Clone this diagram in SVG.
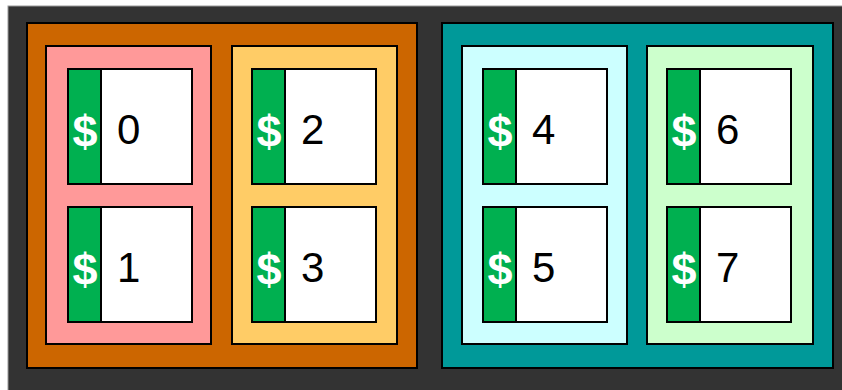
<svg xmlns="http://www.w3.org/2000/svg" width="842" height="390" viewBox="0 0 842 390">
<style>
.bx{stroke:#000;stroke-width:2}
.w{fill:#fff;stroke:#000;stroke-width:2}
.g{fill:#00B050;stroke:#000;stroke-width:2}
.d{font-family:"Liberation Sans",Arial,sans-serif;font-weight:bold;font-size:45px;fill:#fff;text-anchor:middle}
.n{font-family:"Liberation Sans",Arial,sans-serif;font-size:42px;fill:#000}
</style>
<defs>
<g id="item">
<rect class="w" x="0" y="0" width="124" height="115"/>
<rect class="g" x="0" y="0" width="33" height="115"/>
<text class="d" x="17" y="78">$</text>
</g>
</defs>
<rect x="0" y="0" width="842" height="390" fill="#fff"/>
<rect x="8" y="6" width="840" height="390" fill="#333333" stroke="#999" stroke-width="1"/>
<g id="group-a">
<rect class="bx" x="27" y="23" width="390" height="345" fill="#CC6600"/>
<rect class="bx" x="46" y="46" width="165" height="298" fill="#FF9999"/>
<rect class="bx" x="232" y="46" width="165" height="298" fill="#FFCC66"/>
</g>
<g id="group-b">
<rect class="bx" x="442" y="23" width="391" height="345" fill="#009999"/>
<rect class="bx" x="462" y="46" width="165" height="298" fill="#CCFFFF"/>
<rect class="bx" x="647" y="46" width="166" height="298" fill="#CCFFCC"/>
</g>
<g id="node0"><use href="#item" x="68" y="69"/><text class="n" x="117" y="144">0</text></g>
<g id="node1"><use href="#item" x="68" y="207"/><text class="n" x="117" y="282">1</text></g>
<g id="node2"><use href="#item" x="252" y="69"/><text class="n" x="301" y="144">2</text></g>
<g id="node3"><use href="#item" x="252" y="207"/><text class="n" x="301" y="282">3</text></g>
<g id="node4"><use href="#item" x="483" y="69"/><text class="n" x="532" y="144">4</text></g>
<g id="node5"><use href="#item" x="483" y="207"/><text class="n" x="532" y="282">5</text></g>
<g id="node6"><use href="#item" x="667" y="69"/><text class="n" x="716" y="144">6</text></g>
<g id="node7"><use href="#item" x="667" y="207"/><text class="n" x="716" y="282">7</text></g>
<g id="connectors"></g>
</svg>
